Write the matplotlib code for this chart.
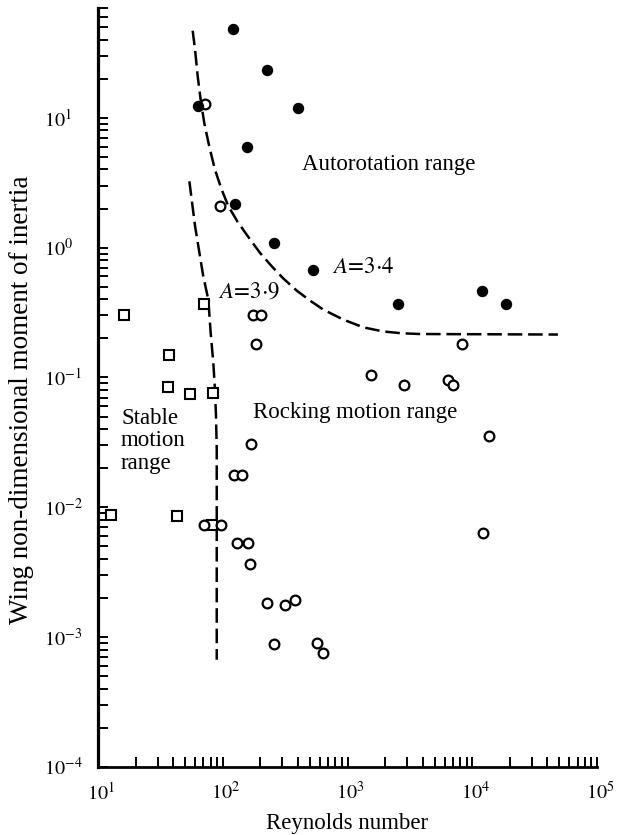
import matplotlib
matplotlib.use("Agg")
import matplotlib.pyplot as plt
import matplotlib.transforms as mtransforms
from matplotlib.ticker import LogLocator, NullFormatter, FixedLocator, FixedFormatter

# ---------------- data ----------------
auto_re = [120, 228, 399, 63, 157, 125, 259, 526, 2520, 12000, 18500]
auto_I = [48, 23.4, 11.9, 12.4, 5.9, 2.18, 1.09, 0.677, 0.365, 0.461, 0.365]

rock_re = [72, 95, 174, 201, 184, 1535, 2840, 6430, 7050, 8220, 13600, 12100,
           168, 123, 142, 71, 97, 131, 158, 165, 225, 315, 379, 258, 566, 640]
rock_I = [12.7, 2.1, 0.30, 0.30, 0.182, 0.1036, 0.0868, 0.0953, 0.0868, 0.182,
          0.0355, 0.0063, 0.0309, 0.0177, 0.0177, 0.00728, 0.00728, 0.00535,
          0.00535, 0.00369, 0.00183, 0.00177, 0.00193, 0.000883, 0.000895, 0.000753]

stable_re = [71, 16.3, 37, 36.6, 55, 84, 12.7, 42.8, 82.4]
stable_I = [0.371, 0.30, 0.150, 0.0848, 0.0740, 0.0753, 0.00873, 0.00857, 0.00728]

b34_re = [57.4, 60.0, 63.0, 66.5, 71.1, 78.0, 86.6, 98.1, 111, 131, 160, 199,
          247, 306, 391, 500, 640, 925, 1340, 1936, 2700, 3810, 48600]
b34_I = [46.8, 33.4, 20.8, 13.8, 9.1, 6.0, 3.98, 2.79, 2.08, 1.59, 1.21, 0.91,
         0.718, 0.578, 0.467, 0.391, 0.333, 0.279, 0.243, 0.226, 0.219, 0.216, 0.214]

b39_re = [54.0, 60.0, 69.8, 76.6, 80.0, 84.0, 86.6, 88.3, 89.5, 89.5]
b39_I = [3.24, 1.46, 0.601, 0.398, 0.221, 0.130, 0.0809, 0.0504, 0.0279, 6.7e-4]

x_ticks = [1e1, 1e2, 1e3, 1e4, 1e5]
x_labels = [r"$10^{1}$", r"$10^{2}$", r"$10^{3}$", r"$10^{4}$", r"$10^{5}$"]
y_ticks = [1e-4, 1e-3, 1e-2, 1e-1, 1e0, 1e1]
y_labels = [r"$10^{-4}$", r"$10^{-3}$", r"$10^{-2}$", r"$10^{-1}$", r"$10^{0}$", r"$10^{1}$"]

# ---------------- style ----------------
plt.rcParams["font.family"] = ["Liberation Serif", "DejaVu Serif"]
plt.rcParams["mathtext.fontset"] = "stix"
plt.rcParams["lines.scale_dashes"] = False

fig = plt.figure(figsize=(6.39, 8.35), dpi=100)
L, R, B, T = 98, 597, 767, 8
W, H = 639, 835
ax = fig.add_axes([L / W, 1 - B / H, (R - L) / W, (B - T) / H])

ax.set_xscale("log")
ax.set_yscale("log")
ax.set_xlim(10, 1e5)
ax.set_ylim(1e-4, 70)

for s in ("top", "right"):
    ax.spines[s].set_visible(False)
ax.spines["left"].set_linewidth(2.3)
ax.spines["bottom"].set_linewidth(2.0)

ax.xaxis.set_major_locator(FixedLocator(x_ticks))
ax.xaxis.set_major_formatter(FixedFormatter(x_labels))
ax.yaxis.set_major_locator(FixedLocator(y_ticks))
ax.yaxis.set_major_formatter(FixedFormatter(y_labels))
ax.xaxis.set_minor_locator(LogLocator(base=10, subs=range(2, 10), numticks=20))
ax.yaxis.set_minor_locator(LogLocator(base=10, subs=range(2, 10), numticks=20))
ax.xaxis.set_minor_formatter(NullFormatter())
ax.yaxis.set_minor_formatter(NullFormatter())
ax.tick_params(which="both", direction="in", length=7, width=1.4, color="black")
ax.tick_params(axis="x", which="major", pad=11, labelsize=14.5)
ax.tick_params(axis="y", which="major", pad=39, labelsize=14.5)
for lab in ax.get_yticklabels():
    lab.set_horizontalalignment("left")
xoff = mtransforms.ScaledTranslation(3 / 100, 0, fig.dpi_scale_trans)
for lab in ax.get_xticklabels():
    lab.set_transform(lab.get_transform() + xoff)

# boundaries
ax.plot(b34_re, b34_I, color="black", lw=1.8, dashes=(10.5, 4.2))
ax.plot(b39_re, b39_I, color="black", lw=1.8, dashes=(10.5, 4.2))

# markers
ax.plot(stable_re, stable_I, ls="none", marker="s", ms=6.6, mfc="white",
        mec="black", mew=1.5, zorder=3)
ax.plot(rock_re, rock_I, ls="none", marker="o", ms=7, mfc="white",
        mec="black", mew=1.6, zorder=4)
ax.plot(auto_re, auto_I, ls="none", marker="o", ms=7.2, mfc="black",
        mec="black", zorder=5)

# annotations
fs = 16.5
ax.text(430, 4.35, "Autorotation range", fontsize=fs, ha="left", va="center")
ax.text(747, 0.70, r"$A\!=\!3{\cdot}4$", fontsize=fs, ha="left", va="center")
ax.text(91.6, 0.451, r"$A\!=\!3{\cdot}9$", fontsize=fs, ha="left", va="center")
ax.text(176, 0.0538, "Rocking motion range", fontsize=fs, ha="left", va="center")
ax.text(15.3, 0.0324, "Stable\nmotion\nrange", fontsize=fs, ha="left",
        va="center", linespacing=1.12)

ax.set_xlabel("Reynolds number", fontsize=16.5)
ax.xaxis.set_label_coords(0.5, (B - 823) / (B - T))
ax.xaxis.label.set_va("center")
ax.set_ylabel("Wing non-dimensional moment of inertia", fontsize=19.5)
ax.yaxis.set_label_coords((22 - L) / (R - L), (B - 400) / (B - T))
ax.yaxis.label.set_va("center")

fig.savefig("out.png", dpi=100)
